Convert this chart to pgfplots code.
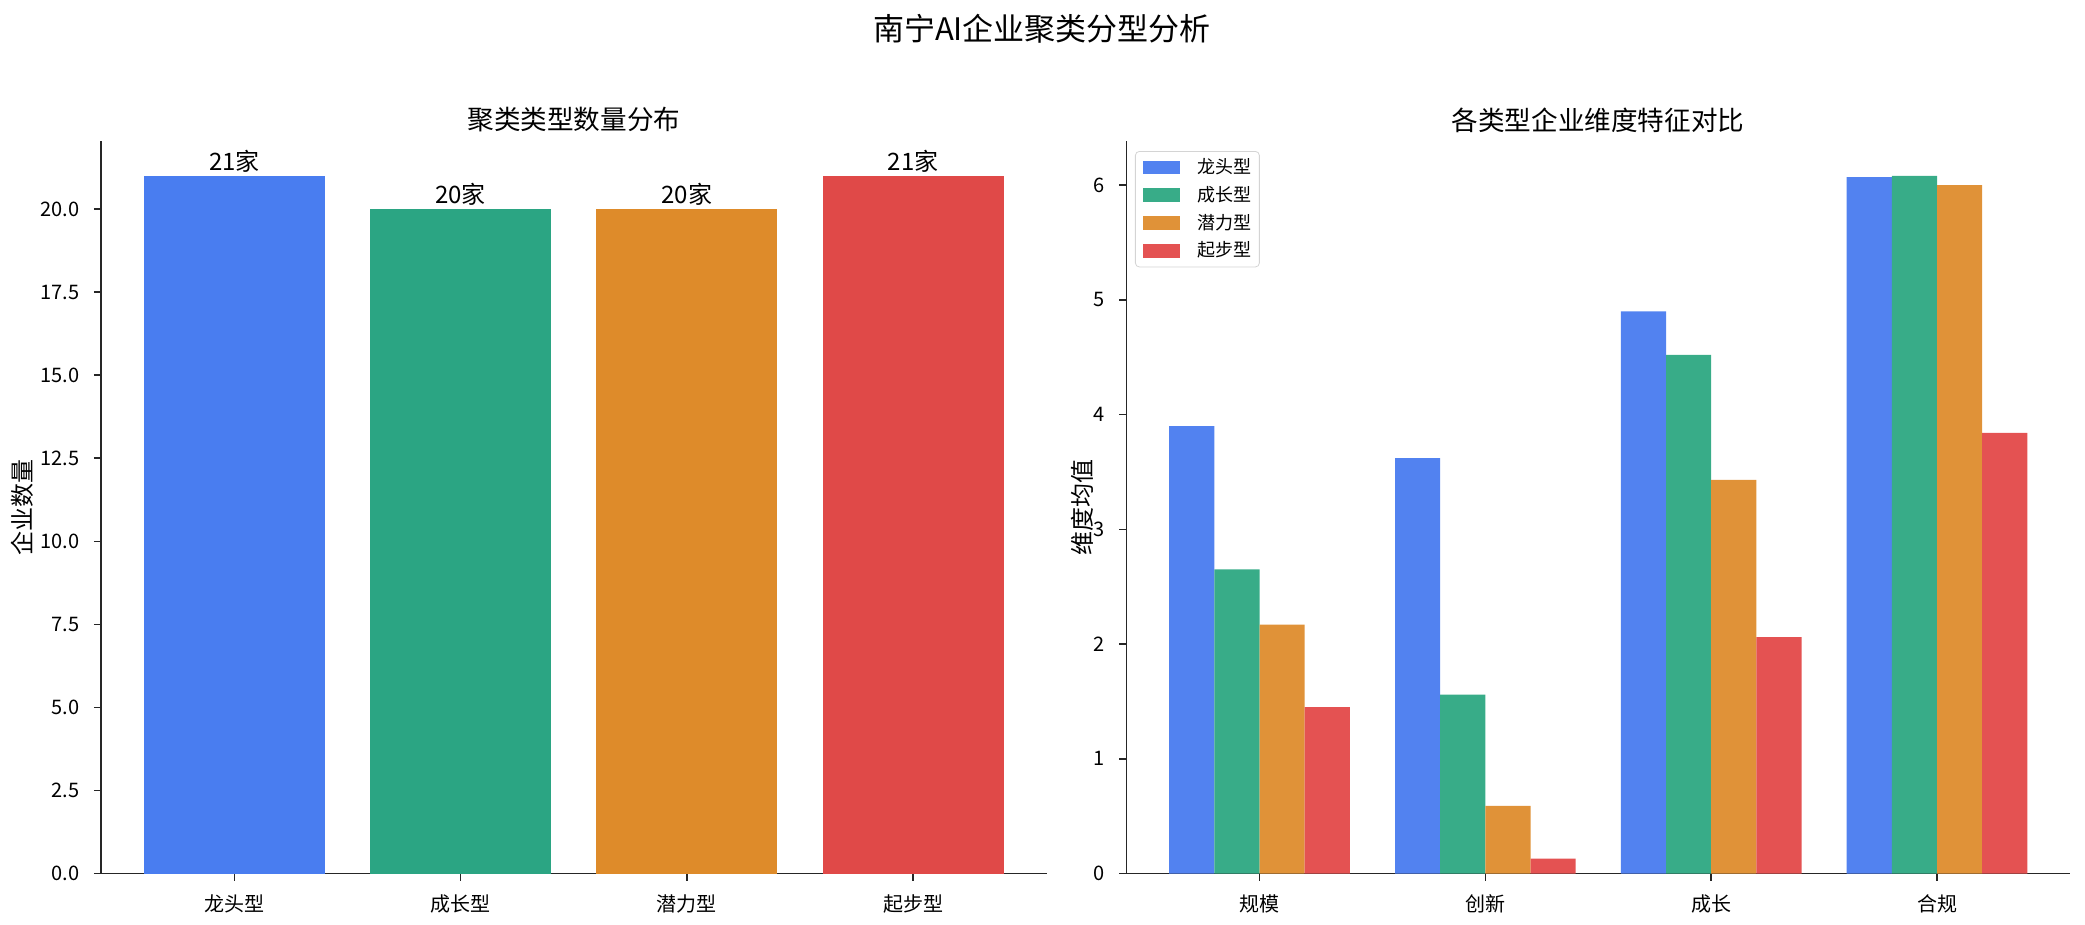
\documentclass[border=0pt]{standalone}
\usepackage{fontspec}
\setmainfont{Noto Sans CJK SC}
\usepackage{pgfplots}
\pgfplotsset{compat=1.18}
\definecolor{cA}{RGB}{73,125,240}
\definecolor{cB}{RGB}{43,165,131}
\definecolor{cC}{RGB}{222,139,42}
\definecolor{cD}{RGB}{224,73,72}
\definecolor{rA}{RGB}{82,130,240}
\definecolor{rB}{RGB}{56,172,136}
\definecolor{rC}{RGB}{224,146,56}
\definecolor{rD}{RGB}{228,82,82}
\pgfkeys{/pgf/number format/assume math mode=true}
\pgfplotsset{
  mybarlegend/.style={legend image code/.code={\fill[##1, sharp corners] (0pt,-3.4pt) rectangle (18.5pt,3.4pt);}},
  common/.style={
    scale only axis,
    axis x line*=bottom, axis y line*=left,
    axis line style={-, line width=0.8pt, black!85},
    tick align=outside, major tick length=3.5pt,
    tick style={line width=0.8pt, black!85},
    xtick={0,1,2,3},
    xmin=-0.59, xmax=3.59, ymin=0,
    xticklabel style={font=\fontsize{10}{12}\selectfont, anchor=north, inner sep=0pt, yshift=-7pt},
    yticklabel style={font=\fontsize{10}{12}\selectfont, anchor=east, inner sep=0pt, xshift=-7pt},
    ylabel style={font=\fontsize{12}{14}\selectfont, anchor=center},
  }
}
\begin{document}
\begin{tikzpicture}[x=1pt,y=1pt]
\begin{axis}[common,
  at={(50.5pt,25.7pt)}, anchor=south west,
  width=472.75pt, height=366.3pt,
  ymax=22.05,
  xticklabels={龙头型,成长型,潜力型,起步型},
  ytick={0,2.5,5,7.5,10,12.5,15,17.5,20},
  yticklabel style={/pgf/number format/fixed, /pgf/number format/fixed zerofill, /pgf/number format/precision=1},
  ylabel={企业数量},
  ylabel style={at={(axis description cs:-0.083,0.5)}},
  nodes near coords={\pgfmathprintnumber{\pgfplotspointmeta}家},
  every node near coord/.append style={font=\fontsize{12}{14}\selectfont, anchor=south, inner sep=0pt, yshift=1.5pt},
]
\addplot[ybar, bar width=0.8, bar shift=0, fill=cA, draw=none] coordinates {(0,21)};
\addplot[ybar, bar width=0.8, bar shift=0, fill=cB, draw=none] coordinates {(1,20)};
\addplot[ybar, bar width=0.8, bar shift=0, fill=cC, draw=none] coordinates {(2,20)};
\addplot[ybar, bar width=0.8, bar shift=0, fill=cD, draw=none] coordinates {(3,21)};
\end{axis}
\begin{axis}[common,
  at={(563.15pt,25.7pt)}, anchor=south west,
  width=472pt, height=366.3pt,
  ymax=6.384,
  xticklabels={规模,创新,成长,合规},
  ytick={0,1,2,3,4,5,6},
  ylabel={维度均值},
  ylabel style={at={(axis description cs:-0.0469,0.5)}},
  legend cell align=left,
  legend style={at={(axis description cs:0.0092,0.9863)}, anchor=north west,
    draw=black!17, rounded corners=2pt, fill=white,
    font=\fontsize{9}{10}\selectfont, inner xsep=4pt, inner ysep=3.5pt,
    row sep=4.85pt, column sep=8.5pt, nodes={inner sep=0pt}},
]
\addplot[ybar, bar width=0.2, bar shift=-0.3, fill=rA, draw=none, mybarlegend] coordinates {(0,3.90) (1,3.62) (2,4.90) (3,6.07)};
\addlegendentry{龙头型}
\addplot[ybar, bar width=0.2, bar shift=-0.1, fill=rB, draw=none, mybarlegend] coordinates {(0,2.65) (1,1.56) (2,4.52) (3,6.08)};
\addlegendentry{成长型}
\addplot[ybar, bar width=0.2, bar shift=0.1, fill=rC, draw=none, mybarlegend] coordinates {(0,2.17) (1,0.59) (2,3.43) (3,6.00)};
\addlegendentry{潜力型}
\addplot[ybar, bar width=0.2, bar shift=0.3, fill=rD, draw=none, mybarlegend] coordinates {(0,1.45) (1,0.13) (2,2.06) (3,3.84)};
\addlegendentry{起步型}
\end{axis}
\node[font=\fontsize{15.5}{18}\selectfont, inner sep=0pt] at (521,448) {南宁AI企业聚类分型分析};
\node[font=\fontsize{13.3}{16}\selectfont, inner sep=0pt] at (286.9,402.5) {聚类类型数量分布};
\node[font=\fontsize{13.3}{16}\selectfont, inner sep=0pt] at (799,402.5) {各类型企业维度特征对比};
\pgfresetboundingbox
\path (0,0) rectangle (1042.5,462.5);
\end{tikzpicture}
\end{document}
